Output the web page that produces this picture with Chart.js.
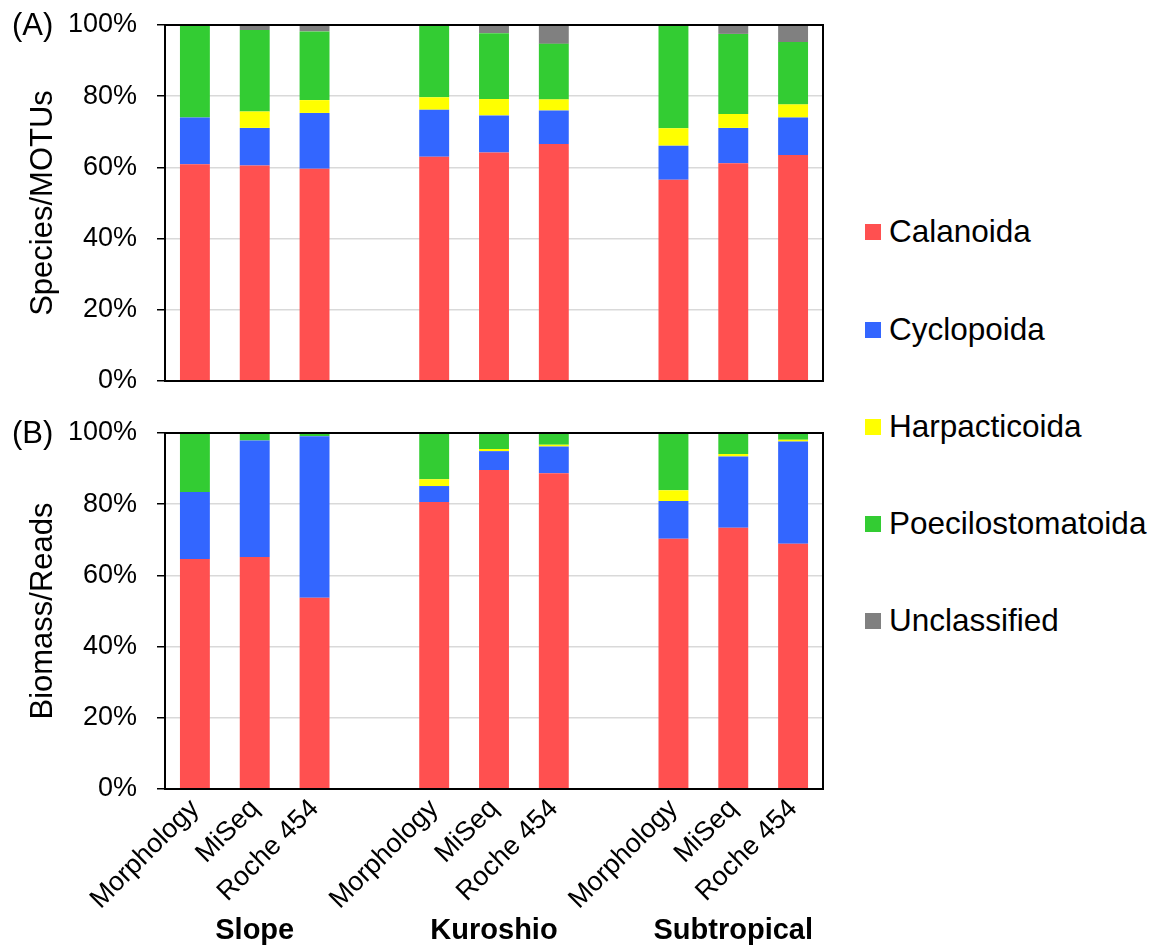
<!DOCTYPE html>
<html>
<head>
<meta charset="utf-8">
<script src="https://cdn.jsdelivr.net/npm/chart.js@4/dist/chart.umd.min.js"></script>
<style>
  html, body { margin: 0; padding: 0; background: #fff; }
  body { width: 1169px; height: 945px; position: relative; overflow: hidden; font-family: 'Liberation Sans', Arial, sans-serif; }
  .cv { position: absolute; left: 0; }
  #wrapA { top: 0; width: 860px; height: 400px; }
  #wrapB { top: 410px; width: 860px; height: 535px; }
  .panel { position: absolute; left: 12px; font-size: 31px; color: #000; line-height: 1; }
  #legend { position: absolute; left: 865px; top: 0; }
  .li { position: absolute; left: 0; white-space: nowrap; font-size: 31.5px; line-height: 1; color: #000; }
  .li span.sw { display: inline-block; width: 16px; height: 16px; margin-right: 8px; vertical-align: middle; position: relative; top: -2px; }
</style>
</head>
<body>
<div id="wrapA" class="cv"><canvas id="chartA"></canvas></div>
<div id="wrapB" class="cv"><canvas id="chartB"></canvas></div>
<div class="panel" style="top:9px">(A)</div>
<div class="panel" style="top:417px">(B)</div>
<div id="legend"></div>
<script>
// ---- Data ----
const groups = ['Slope', 'Kuroshio', 'Subtropical'];
const methods = ['Morphology', 'MiSeq', 'Roche 454'];
const seriesNames = ['Calanoida', 'Cyclopoida', 'Harpacticoida', 'Poecilostomatoida', 'Unclassified'];
const seriesColors = ['#FF5050', '#3366FF', '#FFFF00', '#33CC33', '#808080'];
const yTicks = [0, 20, 40, 60, 80, 100];

// Panel A: Species/MOTUs (%), order: Slope(M, MiSeq, Roche), Kuroshio(...), Subtropical(...)
const calanoidaA        = [60.9, 60.5, 59.6, 63.0, 64.2, 66.6, 56.5, 61.2, 63.5];
const cyclopoidaA       = [13.1, 10.6, 15.7, 13.2, 10.4,  9.4,  9.6,  9.9, 10.5];
const harpacticoidaA    = [ 0.0,  4.6,  3.6,  3.5,  4.6,  3.1,  4.9,  3.9,  3.7];
const poecilostomatoidaA= [26.0, 22.9, 19.3, 20.3, 18.5, 15.6, 29.0, 22.5, 17.5];
const unclassifiedA     = [ 0.0,  1.4,  1.8,  0.0,  2.3,  5.3,  0.0,  2.5,  4.8];

// Panel B: Biomass/Reads (%)
const calanoidaB        = [64.6, 65.2, 53.7, 80.6, 89.6, 88.7, 70.3, 73.4, 68.9];
const cyclopoidaB       = [18.8, 32.7, 45.4,  4.5,  5.3,  7.5, 10.6, 20.0, 28.7];
const harpacticoidaB    = [ 0.0,  0.0,  0.0,  1.9,  0.6,  0.5,  3.0,  0.7,  0.5];
const poecilostomatoidaB= [16.6,  2.1,  0.9, 13.0,  4.5,  3.3, 16.1,  5.9,  1.9];
const unclassifiedB     = [ 0.0,  0.0,  0.0,  0.0,  0.0,  0.0,  0.0,  0.0,  0.0];

// ---- Build category slots (empty slot between groups) ----
const xLabels = [];
const groupLabels = [];
groups.forEach((g, gi) => {
  if (gi > 0) { xLabels.push(''); groupLabels.push(''); }
  methods.forEach((m, mi) => { xLabels.push(m); groupLabels.push(mi === 1 ? g : ''); });
});
function expand(arr) {
  const out = [];
  groups.forEach((g, gi) => {
    if (gi > 0) out.push(null);
    methods.forEach((m, mi) => out.push(arr[gi * methods.length + mi]));
  });
  return out;
}
function makeDatasets(list) {
  return list.map((arr, i) => ({
    label: seriesNames[i],
    data: expand(arr),
    backgroundColor: seriesColors[i],
    borderWidth: 0,
    categoryPercentage: 1.0,
    barPercentage: 0.5,
    stack: 's'
  }));
}

const FONT = "'Liberation Sans', Arial, sans-serif";

const framePlugin = {
  id: 'frame',
  afterDatasetsDraw(chart) {
    const {ctx, chartArea: a} = chart;
    ctx.save();
    ctx.strokeStyle = '#000';
    ctx.lineWidth = 2;
    ctx.strokeRect(a.left, a.top, a.right - a.left, a.bottom - a.top);
    ctx.restore();
  }
};

function yScale(title) {
  return {
    min: 0, max: 100,
    afterBuildTicks(scale) { scale.ticks = yTicks.map(v => ({value: v})); },
    afterFit(scale) { scale.width = 165; scale.paddingTop = 0; scale.paddingBottom = 0; },
    ticks: { callback: v => v + '%', color: '#000', font: { family: FONT, size: 27 }, padding: 20 },
    grid: { color: '#d9d9d9', lineWidth: 1.5, tickColor: '#000', tickLength: 8, drawTicks: true },
    border: { display: true, color: '#000', width: 2 },
    title: { display: true, text: title, color: '#000', font: { family: FONT, size: 31 }, padding: { top: 25, bottom: 0 } }
  };
}

Chart.defaults.animation = false;

new Chart(document.getElementById('chartA'), {
  type: 'bar',
  data: { labels: xLabels, datasets: makeDatasets([calanoidaA, cyclopoidaA, harpacticoidaA, poecilostomatoidaA, unclassifiedA]) },
  options: {
    responsive: true, maintainAspectRatio: false,
    layout: { padding: { left: 0, right: 37, top: 25, bottom: 0 } },
    plugins: { legend: { display: false }, tooltip: { enabled: false } },
    scales: {
      x: {
        stacked: true,
        ticks: { display: false },
        grid: { display: false },
        border: { display: true, color: '#000', width: 2 },
        afterFit(scale) { scale.height = 19; }
      },
      y: Object.assign(yScale('Species/MOTUs'), { stacked: true })
    }
  },
  plugins: [framePlugin]
});

new Chart(document.getElementById('chartB'), {
  type: 'bar',
  data: { labels: xLabels, datasets: makeDatasets([calanoidaB, cyclopoidaB, harpacticoidaB, poecilostomatoidaB, unclassifiedB]) },
  options: {
    responsive: true, maintainAspectRatio: false,
    layout: { padding: { left: 0, right: 37, top: 23, bottom: 0 } },
    plugins: { legend: { display: false }, tooltip: { enabled: false } },
    scales: {
      x: {
        stacked: true,
        ticks: { color: '#000', font: { family: FONT, size: 27 }, minRotation: 45, maxRotation: 45, autoSkip: false, padding: 4 },
        grid: { display: false, drawTicks: false },
        border: { display: true, color: '#000', width: 2 },
        afterFit(scale) { scale.height = 125; }
      },
      x2: {
        type: 'category',
        position: 'bottom',
        labels: groupLabels,
        ticks: { color: '#000', font: { family: FONT, size: 29, weight: 'bold' }, maxRotation: 0, minRotation: 0, autoSkip: false, padding: 0 },
        grid: { display: false, drawTicks: false },
        border: { display: false },
        afterFit(scale) { scale.height = 31; }
      },
      y: Object.assign(yScale('Biomass/Reads'), { stacked: true })
    }
  },
  plugins: [framePlugin]
});

// ---- Legend (HTML, from series arrays) ----
const legendY = [232, 330, 427, 524, 621];
const legend = document.getElementById('legend');
seriesNames.forEach((n, i) => {
  const d = document.createElement('div');
  d.className = 'li';
  d.style.top = (legendY[i] - 16) + 'px';
  d.innerHTML = '<span class="sw" style="background:' + seriesColors[i] + '"></span>' + n;
  legend.appendChild(d);
});
</script>
</body>
</html>
